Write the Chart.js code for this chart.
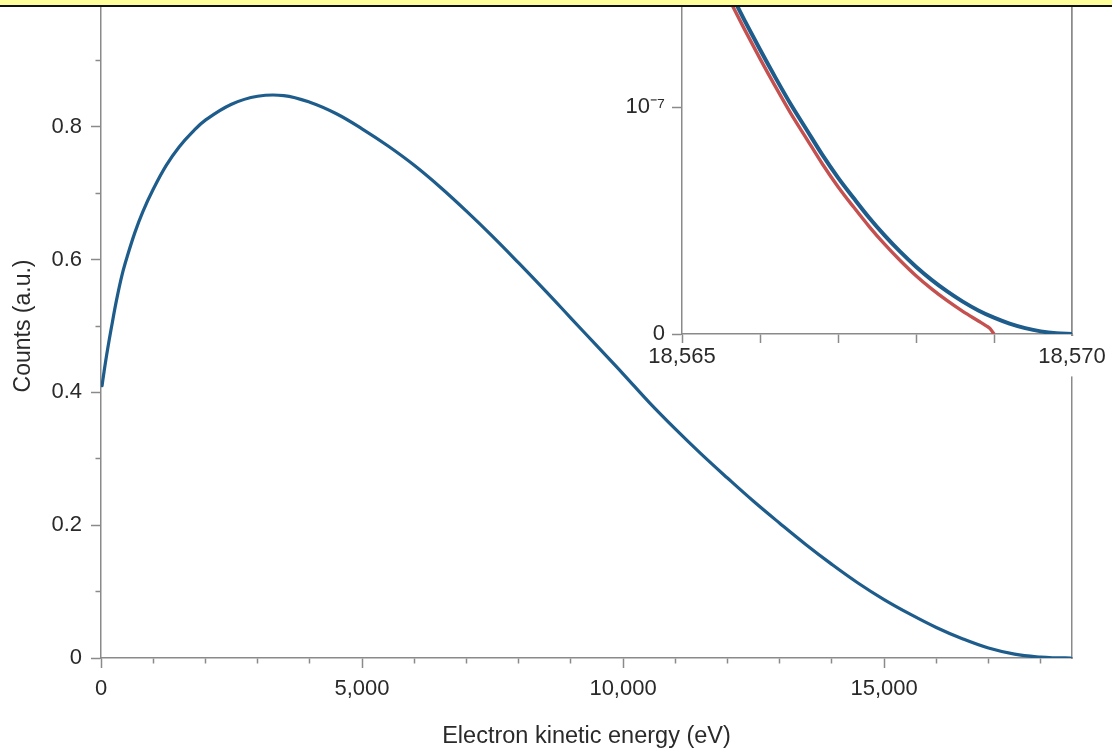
<!DOCTYPE html>
<html><head><meta charset="utf-8">
<script src="https://cdn.jsdelivr.net/npm/chart.js@4.4.1/dist/chart.umd.min.js"></script>
<style>
html,body{margin:0;padding:0;background:#fff;width:1112px;height:753px;overflow:hidden;position:relative}
#main{position:absolute;left:0;top:-40px;width:1112px;height:793px}
#inset{position:absolute;left:600px;top:-40px;width:512px;height:420px}
#band{position:absolute;left:0;top:0;width:1112px;height:5px;background:#ffff99;border-bottom:2px solid #111;z-index:5}
</style></head><body>
<canvas id="main" width="1112" height="793"></canvas>
<canvas id="inset" width="512" height="420"></canvas>
<div id="band"></div>
<script>
// ---- main spectrum ----
const energy = [20, 60, 120, 200, 300, 400, 500, 650, 800, 1000, 1250, 1500, 1750, 2000, 2500, 3000, 3500, 4000, 4500, 5000, 5500, 6000, 6500, 7000, 7500, 8000, 8500, 9000, 9500, 10000, 10500, 11000, 11500, 12000, 12500, 13000, 13500, 14000, 14500, 15000, 15500, 16000, 16500, 17000, 17500, 18000, 18300, 18570];
const counts = [0.410, 0.432, 0.462, 0.498, 0.540, 0.576, 0.604, 0.641, 0.672, 0.706, 0.742, 0.770, 0.792, 0.810, 0.834, 0.846, 0.847, 0.837, 0.820, 0.797, 0.771, 0.742, 0.709, 0.673, 0.635, 0.595, 0.554, 0.512, 0.470, 0.428, 0.385, 0.345, 0.307, 0.271, 0.236, 0.203, 0.171, 0.141, 0.113, 0.088, 0.066, 0.046, 0.029, 0.015, 0.0058, 0.0012, 0.0002, 0];
const xTickValues = [0, 1000, 2000, 3000, 4000, 5000, 6000, 7000, 8000, 9000, 10000, 11000, 12000, 13000, 14000, 15000, 16000, 17000, 18000];
const xMajorTicks = [0, 5000, 10000, 15000];
const yTickValues = [0, 0.1, 0.2, 0.3, 0.4, 0.5, 0.6, 0.7, 0.8, 0.9, 1.0];
const yMajorTicks = [0, 0.2, 0.4, 0.6, 0.8, 1.0];

// ---- inset (counts in units of 1e-7) ----
const insetEnergyBlue = [18565.6, 18565.8, 18566.0, 18566.2, 18566.4, 18566.6, 18566.8, 18567.0, 18567.2, 18567.4, 18567.6, 18567.8, 18568.0, 18568.2, 18568.4, 18568.6, 18568.8, 18569.0, 18569.2, 18569.4, 18569.6, 18569.8, 18570.0];
const insetCountsBlue = [1.52, 1.385, 1.255, 1.13, 1.01, 0.90, 0.79, 0.69, 0.60, 0.513, 0.434, 0.362, 0.297, 0.239, 0.188, 0.143, 0.104, 0.072, 0.046, 0.026, 0.0115, 0.003, 0];
const insetEnergyRed = [18565.6, 18565.8, 18566.0, 18566.2, 18566.4, 18566.6, 18566.8, 18567.0, 18567.2, 18567.4, 18567.6, 18567.8, 18568.0, 18568.2, 18568.4, 18568.6, 18568.8, 18568.9, 18568.95, 18569.0];
const insetCountsRed = [1.48, 1.345, 1.215, 1.09, 0.97, 0.86, 0.75, 0.65, 0.56, 0.474, 0.395, 0.323, 0.257, 0.199, 0.147, 0.10, 0.0575, 0.036, 0.024, 0];
const insetXTickValues = [18565, 18566, 18567, 18568, 18569, 18570];
const insetXLabels = [18565, 18570];
const insetYTickValues = [0, 1];
const insetYLabels = {0: '0', 1: '10\u207B\u2077'};

const BLUE = '#1d5c8b', RED = '#c4514f', AXIS = '#8a8a8a', TEXT = '#2a2a2a';
const FONT = '"Liberation Sans", Arial, Helvetica, sans-serif';
const near = (a, b) => Math.abs(a - b) < 1e-6;
const pts = (xs, ys) => xs.map((x, i) => ({x, y: ys[i]}));
const setTicks = vals => s => { s.ticks = vals.map(v => ({value: v})); };
const base = {responsive: false, animation: false, events: [],
  plugins: {legend: {display: false}, tooltip: {enabled: false}}};

new Chart(document.getElementById('main'), {
  type: 'line',
  data: {datasets: [{data: pts(energy, counts), borderColor: BLUE, borderWidth: 3.2,
    pointRadius: 0, tension: 0.4, fill: false, borderCapStyle: 'round'}]},
  options: Object.assign({}, base, {
    layout: {padding: {left: 0, top: 34, right: 40, bottom: 0}},
    scales: {
      x: {type: 'linear', position: 'bottom', min: 0, max: 18600,
        afterBuildTicks: setTicks(xTickValues),
        afterFit: s => { s.height = 95; },
        border: {color: AXIS, width: 1.5},
        grid: {drawOnChartArea: false, tickLength: 10, tickWidth: 1.5, tickColor: AXIS,
          tickBorderDash: c => (c.tick && !xMajorTicks.some(v => near(v, c.tick.value))) ? [5, 100] : []},
        ticks: {autoSkip: false, maxRotation: 0, padding: 8, color: TEXT,
          font: {family: FONT, size: 22},
          callback: v => xMajorTicks.some(t => near(t, v)) ? Math.round(v).toLocaleString('en-US') : ''},
        title: {display: true, text: 'Electron kinetic energy (eV)', color: TEXT,
          font: {family: FONT, size: 23.5}, padding: {top: 0, bottom: 2}}
      },
      y: {type: 'linear', position: 'left', min: 0, max: 1,
        afterBuildTicks: setTicks(yTickValues),
        afterFit: s => { s.width = 101; },
        border: {color: AXIS, width: 1.5},
        grid: {drawOnChartArea: false, tickLength: 10, tickWidth: 1.5, tickColor: AXIS,
          tickBorderDash: c => (c.tick && !yMajorTicks.some(v => near(v, c.tick.value))) ? [0, 4.5, 6, 100] : []},
        ticks: {autoSkip: false, padding: 9, color: TEXT, font: {family: FONT, size: 22},
          callback: v => yMajorTicks.some(t => near(t, v)) ? (near(v, 0) ? '0' : v.toFixed(1)) : ''},
        title: {display: true, text: 'Counts (a.u.)', color: TEXT, font: {family: FONT, size: 23},
          padding: {top: 10, bottom: 0}}
      },
      y2: {type: 'linear', position: 'right', min: 0, max: 1,
        afterFit: s => { s.width = 0; },
        border: {display: true, color: AXIS, width: 1.5},
        grid: {display: false, drawTicks: false}, ticks: {display: false}}
    }
  })
});

new Chart(document.getElementById('inset'), {
  type: 'line',
  data: {datasets: [
    {data: pts(insetEnergyBlue, insetCountsBlue), borderColor: BLUE, borderWidth: 4,
      pointRadius: 0, cubicInterpolationMode: 'monotone', fill: false},
    {data: pts(insetEnergyRed, insetCountsRed), borderColor: RED, borderWidth: 3.4,
      pointRadius: 0, cubicInterpolationMode: 'monotone', fill: false}
  ]},
  options: Object.assign({}, base, {
    layout: {padding: {left: 0, top: 34, right: 40, bottom: 0}},
    scales: {
      x: {type: 'linear', position: 'bottom', min: 18565, max: 18570,
        afterBuildTicks: setTicks(insetXTickValues),
        afterFit: s => { s.height = 46; },
        border: {color: AXIS, width: 1.5},
        grid: {drawOnChartArea: false, tickLength: 9, tickWidth: 1.5, tickColor: AXIS},
        ticks: {autoSkip: false, maxRotation: 0, padding: 1, color: TEXT,
          font: {family: FONT, size: 22},
          showLabelBackdrop: c => !!(c.tick && near(c.tick.value, 18570)),
          backdropColor: '#ffffff', backdropPadding: {top: 8, bottom: 6, left: 2, right: 2},
          callback: v => insetXLabels.some(t => near(t, v)) ? Math.round(v).toLocaleString('en-US') : ''}
      },
      y: {type: 'linear', position: 'left', min: 0, max: 1.5,
        afterBuildTicks: setTicks(insetYTickValues),
        afterFit: s => { s.width = 82; },
        border: {color: AXIS, width: 1.5},
        grid: {drawOnChartArea: false, tickLength: 10, tickWidth: 1.5, tickColor: AXIS},
        ticks: {autoSkip: false, padding: 7, color: TEXT, font: {family: FONT, size: 22},
          callback: v => insetYLabels[v] !== undefined ? insetYLabels[v] : ''}
      },
      y2: {type: 'linear', position: 'right', min: 0, max: 1.5,
        afterFit: s => { s.width = 0; },
        border: {display: true, color: AXIS, width: 1.5},
        grid: {display: false, drawTicks: false}, ticks: {display: false}}
    }
  })
});
</script>
</body></html>
